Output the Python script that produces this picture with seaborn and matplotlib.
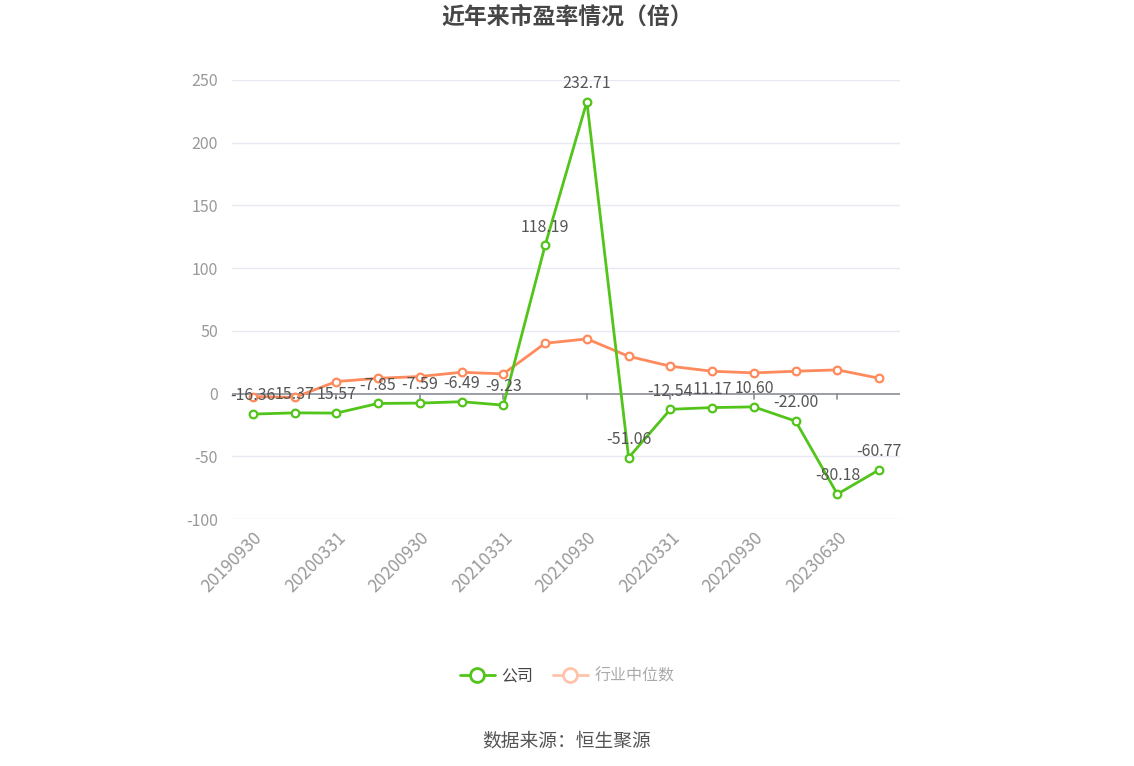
import matplotlib
matplotlib.use("Agg")
import matplotlib.pyplot as plt
import seaborn as sns
import pandas as pd
from matplotlib.lines import Line2D

dates = ["20190930", "20191231", "20200331", "20200630", "20200930", "20201231",
         "20210331", "20210630", "20210930", "20211231", "20220331", "20220630",
         "20220930", "20221231", "20230630", "20230930"]
company = [-16.36, -15.37, -15.57, -7.85, -7.59, -6.49, -9.23, 118.19, 232.71,
           -51.06, -12.54, -11.17, -10.60, -22.00, -80.18, -60.77]
industry = [-2.4, -3.0, 9.6, 12.2, 13.6, 17.0, 15.7, 40.1, 43.6, 29.7, 21.8,
            17.8, 16.5, 17.8, 18.9, 12.2]
company_labels = ["-16.36", "15.37", "15.57", "-7.85", "-7.59", "-6.49", "-9.23",
                  "118.19", "232.71", "-51.06", "-12.54", "11.17", "10.60",
                  "-22.00", "-80.18", "-60.77"]
yticks = [-100, -50, 0, 50, 100, 150, 200, 250]

GREEN = "#52c41a"
ORANGE = "#ff8a5b"

sns.set_theme(style="white")
plt.rcParams['font.family'] = ['Noto Sans CJK SC', 'DejaVu Sans']

fig = plt.figure(figsize=(11.34, 7.66), dpi=100)
ax = fig.add_axes([232/1134, 1-519/766, (900-232)/1134, (519-80)/766])

df = pd.DataFrame({"idx": list(range(len(dates))), "date": dates,
                   "company": company, "industry": industry})

sns.lineplot(data=df, x="idx", y="industry", ax=ax, color=ORANGE, linewidth=2,
             marker="o", markersize=5.5, markerfacecolor="white",
             markeredgecolor=ORANGE, markeredgewidth=1.6, zorder=3)
sns.lineplot(data=df, x="idx", y="company", ax=ax, color=GREEN, linewidth=2,
             marker="o", markersize=5.5, markerfacecolor="white",
             markeredgecolor=GREEN, markeredgewidth=1.6, zorder=4)

for i, (v, lab) in enumerate(zip(company, company_labels)):
    ax.annotate(lab, (i, v), xytext=(0, 7), textcoords="offset points",
                ha="center", va="bottom", fontsize=11.5, color="#555555", zorder=5)

ax.set_xlim(-0.5, len(dates) - 0.5)
ax.set_ylim(-100, 250)
ax.set_yticks(yticks)
ax.set_yticklabels([str(t) for t in yticks], fontsize=11.5, color="#999999")
ax.tick_params(axis="y", length=0, pad=10)
for t in yticks:
    if t != 0:
        ax.axhline(t, color="#e6e9f2", linewidth=1, zorder=0)
ax.axhline(0, color="#8a8d96", linewidth=1.2, zorder=1)

shown = list(range(0, len(dates), 2))
ax.set_xticks(shown)
ax.set_xticklabels([dates[i] for i in shown], rotation=45, ha="right",
                   rotation_mode="anchor", fontsize=12.5, color="#999999")
ax.tick_params(axis="x", length=0, pad=7)
for i in shown:
    ax.plot([i, i], [0, -4], color="#8a8d96", linewidth=1.2, zorder=1)

for s in ax.spines.values():
    s.set_visible(False)
ax.set_xlabel("")
ax.set_ylabel("")

fig.text(0.5, 1-17/766, "近年来市盈率情况（倍）", ha="center", va="center",
         fontsize=16.5, fontweight="bold", color="#464646")

handles = [
    Line2D([0], [0], color=GREEN, linewidth=2, marker="o", markersize=10,
           markerfacecolor="white", markeredgecolor=GREEN, markeredgewidth=2),
    Line2D([0], [0], color="#ffc2aa", linewidth=2, marker="o", markersize=10,
           markerfacecolor="white", markeredgecolor="#ffc2aa", markeredgewidth=2),
]
leg = fig.legend(handles, ["公司", "行业中位数"], loc="center",
                 bbox_to_anchor=(0.5, 1-676/766), ncol=2, frameon=False,
                 fontsize=11.5, handlelength=2.2, columnspacing=1.2,
                 handletextpad=0.4)
leg.get_texts()[0].set_color("#444444")
leg.get_texts()[1].set_color("#aaaaaa")

fig.text(0.5, 1-741/766, "数据来源：恒生聚源", ha="center", va="center",
         fontsize=13.5, color="#555555")

fig.savefig("out.png", dpi=100)
